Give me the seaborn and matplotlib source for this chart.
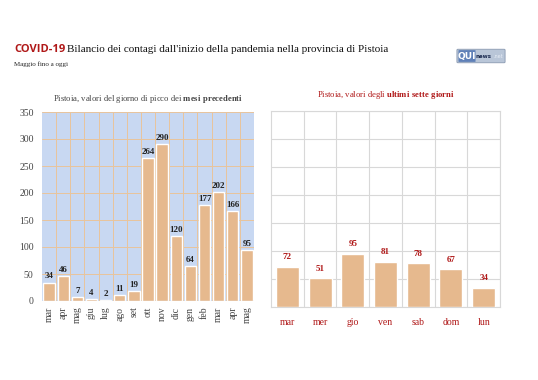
import numpy as np
import pandas as pd
from matplotlib import pyplot as plt
from matplotlib.patches import FancyBboxPatch
import seaborn as sns

mesi = ["mar", "apr", "mag", "giu", "lug", "ago", "set", "ott", "nov", "dic",
        "gen", "feb", "mar ", "apr ", "mag "]
picchi = [34, 46, 7, 4, 2, 11, 19, 264, 290, 120, 64, 177, 202, 166, 95]
giorni = ["mar", "mer", "gio", "ven", "sab", "dom", "lun"]
ultimi = [72, 51, 95, 81, 78, 67, 34]

bar_col = "#e6b98e"
red = "#b01818"

sns.set_style("white")
plt.rcParams['font.family'] = ['Liberation Serif', 'DejaVu Serif']
plt.rcParams['mathtext.fontset'] = 'custom'
plt.rcParams['mathtext.rm'] = 'Liberation Serif'
plt.rcParams['mathtext.bf'] = 'Liberation Serif:bold'

fig = plt.figure(figsize=(5.38, 3.80), dpi=100)
W, H = 538, 380

def ax_at(x0, y0, x1, y1):
    return fig.add_axes([x0 / W, 1 - y1 / H, (x1 - x0) / W, (y1 - y0) / H])

# left panel
ax1 = ax_at(42, 112, 254, 301)
df1 = pd.DataFrame({"mese": mesi, "casi": picchi})
sns.barplot(data=df1, x="mese", y="casi", color=bar_col, saturation=1,
            width=0.8, ax=ax1, zorder=3)
ax1.set_facecolor("#c8d8f2")
ax1.set_ylim(0, 350)
ax1.set_yticks(range(0, 351, 50))
ax1.set_xlim(-0.5, len(mesi) - 0.5)
ax1.set_xticks(np.arange(len(mesi)))
ax1.set_xticklabels([m.strip() for m in mesi], rotation=90, fontsize=7)
ax1.tick_params(axis="y", labelsize=7, length=0, pad=6, colors="#444444")
ax1.tick_params(axis="x", length=0, pad=4, colors="#444444")
ax1.set_xticks(np.arange(len(mesi)) + 0.5, minor=True)
ax1.tick_params(axis="x", which="minor", length=0)
ax1.grid(True, which="minor", axis="x", color="#e8c49c", lw=0.7, zorder=0)
ax1.grid(True, which="major", axis="y", color="#e8c49c", lw=0.7, zorder=0)
ax1.set_xlabel("")
ax1.set_ylabel("")
for s in ax1.spines.values():
    s.set_visible(False)
ax1.axhline(0, color="#aaaaaa", lw=0.8, zorder=4)
for i, v in enumerate(picchi):
    ax1.text(i, v + 4, str(v), ha="center", va="bottom", fontsize=6.5,
             fontweight="bold", color="#222222", zorder=5)
ax1.set_title("Pistoia, valori del giorno di picco dei $\\bf{mesi\\ precedenti}$",
              fontsize=6.2, color="#444444", pad=8)

# right panel
ax2 = ax_at(271, 111, 500, 307)
df2 = pd.DataFrame({"giorno": giorni, "casi": ultimi})
sns.barplot(data=df2, x="giorno", y="casi", color=bar_col, saturation=1,
            width=0.7, ax=ax2, zorder=3)
ax2.set_ylim(0, 350)
ax2.set_yticks(range(0, 351, 50))
ax2.set_yticklabels([])
ax2.set_xlim(-0.5, len(giorni) - 0.5)
ax2.set_xticks(np.arange(len(giorni)))
ax2.set_xticklabels(giorni, fontsize=7, color=red)
ax2.tick_params(length=0, pad=8)
ax2.set_xticks(np.arange(len(giorni)) + 0.5, minor=True)
ax2.tick_params(axis="x", which="minor", length=0)
ax2.grid(True, which="minor", axis="x", color="#d8d8d8", lw=0.8, zorder=0)
ax2.grid(True, which="major", axis="y", color="#d8d8d8", lw=0.8, zorder=0)
ax2.set_xlabel("")
ax2.set_ylabel("")
for s in ax2.spines.values():
    s.set_color("#d8d8d8")
for i, v in enumerate(ultimi):
    ax2.text(i, v + 10, str(v), ha="center", va="bottom", fontsize=6.5,
             fontweight="bold", color=red, zorder=5)
ax2.set_title("Pistoia, valori degli $\\bf{ultimi\\ sette\\ giorni}$",
              fontsize=6.2, color=red, pad=10)

# header
t1 = fig.text(14 / W, 1 - 52 / H, "COVID-19", fontsize=8, fontweight="bold",
              color=red, family=["Open Sans", "DejaVu Sans"], va="baseline")
r = fig.canvas.get_renderer()
bb = t1.get_window_extent(r)
fig.text((bb.x1 + 2) / W, 1 - 52 / H,
         "Bilancio dei contagi dall'inizio della pandemia nella provincia di Pistoia",
         fontsize=8, color="#111111", va="baseline")
fig.text(14 / W, 1 - 66 / H, "Maggio fino a oggi", fontsize=5, color="#222222", va="baseline")

# logo
logo = FancyBboxPatch((458 / W, 1 - 62 / H), 46 / W, 12 / H,
                      boxstyle="round,pad=0.002", transform=fig.transFigure,
                      fc="#b9c6d8", ec="#8898b0", lw=0.6)
fig.patches.append(logo)
fig.patches.append(FancyBboxPatch((459 / W, 1 - 61.5 / H), 16 / W, 11 / H,
                                  boxstyle="round,pad=0.001", transform=fig.transFigure,
                                  fc="#5f80b8", ec="none"))
fig.text(467 / W, 1 - 56 / H, "QUI", fontsize=6.5, fontweight="bold", color="white",
         family=["DejaVu Sans"], va="center", ha="center")
fig.text(476 / W, 1 - 56.5 / H, "news", fontsize=4, fontweight="bold", color="#1a2a50",
         family=["DejaVu Sans"], va="center", ha="left")
fig.text(503 / W, 1 - 56.5 / H, ".net", fontsize=3.5, color="#e8eef6",
         family=["DejaVu Sans"], va="center", ha="right")

fig.savefig("out.png", dpi=100)
